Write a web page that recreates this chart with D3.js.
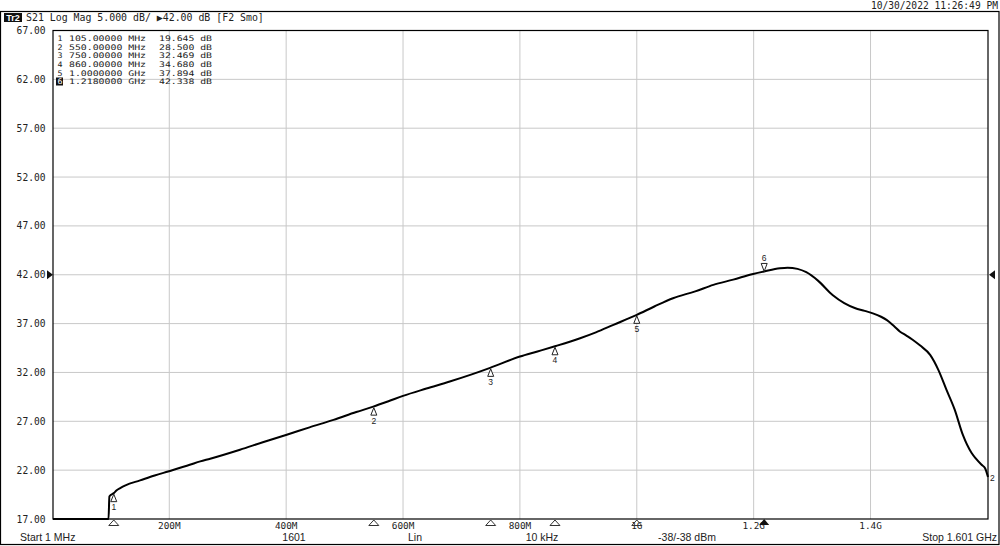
<!DOCTYPE html>
<html><head><meta charset="utf-8">
<script src="https://cdn.jsdelivr.net/npm/d3@7"></script>
<style>
html,body{margin:0;padding:0;background:#fff;}
svg{display:block;}
</style></head>
<body>
<script>
// ---- data ----
const freqMHz = [1, 30, 60, 90, 96, 97.5, 101, 105, 110, 116, 125, 150, 175, 198, 235, 253, 270, 321, 360, 401, 440, 481, 520, 549, 575, 600, 640, 680, 715, 749, 800, 830, 860, 903, 930, 960, 1000, 1030, 1062, 1100, 1131, 1165, 1199, 1218, 1245, 1258, 1275, 1290, 1310, 1335, 1355, 1373, 1390, 1404, 1418, 1428, 1440, 1450, 1462, 1472, 1485, 1502, 1516, 1530, 1544, 1558, 1573, 1580, 1590, 1596, 1601];
const s21dB = [12.5, 13.0, 12.8, 13.5, 14.0, 19.3, 19.5, 19.645, 19.95, 20.17, 20.45, 20.95, 21.45, 21.87, 22.55, 22.9, 23.17, 24.09, 24.85, 25.62, 26.38, 27.15, 27.95, 28.5, 29.05, 29.6, 30.35, 31.07, 31.75, 32.469, 33.63, 34.15, 34.68, 35.5, 36.1, 36.87, 37.894, 38.75, 39.6, 40.3, 40.96, 41.5, 42.08, 42.338, 42.66, 42.72, 42.6, 42.26, 41.4, 39.93, 39.1, 38.6, 38.3, 38.05, 37.7, 37.35, 36.75, 36.2, 35.75, 35.35, 34.75, 33.8, 32.27, 30.22, 28.2, 25.6, 23.75, 23.2, 22.55, 22.2, 21.3];

const markerIds = [1, 2, 3, 4, 5, 6];
const markerFreq = [105, 550, 750, 860, 1000, 1218];
const markerVal = [19.645, 28.5, 32.469, 34.68, 37.894, 42.338];
const markerFreqText = ["105.00000 MHz", "550.00000 MHz", "750.00000 MHz", "860.00000 MHz", "1.0000000 GHz", "1.2180000 GHz"];
const markerValText = ["19.645 dB", "28.500 dB", "32.469 dB", "34.680 dB", "37.894 dB", "42.338 dB"];

const yTicks = [17, 22, 27, 32, 37, 42, 47, 52, 57, 62, 67];
const xTicks = [200, 400, 600, 800, 1000, 1200, 1400];
const xTickLabels = ["200M", "400M", "600M", "800M", "1G", "1.2G", "1.4G"];
const refLevel = 42;

const headerText = "S21 Log Mag 5.000 dB/ \u25B642.00 dB [F2 Smo]";
const dateText = "10/30/2022 11:26:49 PM";
const statusTexts = ["Start 1 MHz", "1601", "Lin", "10 kHz", "-38/-38 dBm", "Stop 1.601 GHz"];

// ---- drawing ----
const W = 1000, H = 546;
const L = 53, R = 988, T = 30.5, B = 519;
const mono = "'DejaVu Sans Mono', monospace";
const sans = "'Liberation Sans', Arial, sans-serif";

const svg = d3.select("body").append("svg").attr("width", W).attr("height", H);

const x = d3.scaleLinear().domain([1, 1601]).range([L, R]);
const y = d3.scaleLinear().domain([17, 67]).range([B, T]).clamp(true);

// outer frame
svg.append("rect").attr("x", 0.5).attr("y", 11.5).attr("width", W - 1.5).attr("height", H - 13)
  .attr("fill", "none").attr("stroke", "#000").attr("stroke-width", 1.2);

// date
svg.append("text").attr("x", 998).attr("y", 9).attr("text-anchor", "end")
  .attr("font-family", mono).attr("font-size", 9.6).attr("fill", "#222").text(dateText);

// header
svg.append("rect").attr("x", 4).attr("y", 13).attr("width", 18).attr("height", 9).attr("fill", "#111");
svg.append("text").attr("x", 13).attr("y", 20.5).attr("text-anchor", "middle")
  .attr("font-family", sans).attr("font-weight", "bold").attr("font-size", 9).attr("fill", "#fff").text("Tr2");
svg.append("text").attr("x", 26).attr("y", 21).attr("font-family", mono).attr("font-size", 9.9)
  .attr("fill", "#222").text(headerText);

// grid
svg.append("g").selectAll("line").data(yTicks.slice(1, -1)).join("line")
  .attr("x1", L).attr("x2", R).attr("y1", d => y(d)).attr("y2", d => y(d))
  .attr("stroke", "#c8c8c8").attr("stroke-width", 1);
svg.append("g").selectAll("line").data(xTicks).join("line")
  .attr("x1", d => x(d)).attr("x2", d => x(d)).attr("y1", T).attr("y2", B)
  .attr("stroke", "#c8c8c8").attr("stroke-width", 1);

// plot border
svg.append("rect").attr("x", L).attr("y", T).attr("width", R - L).attr("height", B - T)
  .attr("fill", "none").attr("stroke", "#000").attr("stroke-width", 1.2);

// y labels
svg.append("g").selectAll("text").data(yTicks).join("text")
  .attr("x", 45.5).attr("y", d => y(d) + 3.5).attr("text-anchor", "end")
  .attr("font-family", mono).attr("font-size", 9.6).attr("fill", "#222")
  .text(d => d.toFixed(2));

// x labels
svg.append("g").selectAll("text").data(xTicks).join("text")
  .attr("x", d => x(d)).attr("y", 529).attr("text-anchor", "middle")
  .attr("font-family", mono).attr("font-size", 9.4).attr("fill", "#222")
  .text((d, i) => xTickLabels[i]);

// status row
const statusX = [20, 294, 415, 542, 687, 997];
const statusAnchor = ["start", "middle", "middle", "middle", "middle", "end"];
svg.append("g").selectAll("text").data(statusTexts).join("text")
  .attr("x", (d, i) => statusX[i]).attr("y", 541).attr("text-anchor", (d, i) => statusAnchor[i])
  .attr("font-family", sans).attr("font-size", 10.5).attr("fill", "#222").text(d => d);

// reference level arrows
const ry = y(refLevel);
svg.append("path").attr("d", `M${L - 6},${ry - 4.5}L${L},${ry}L${L - 6},${ry + 4.5}Z`).attr("fill", "#111");
svg.append("path").attr("d", `M${R + 7},${ry - 4.5}L${R + 1},${ry}L${R + 7},${ry + 4.5}Z`).attr("fill", "#111");

// trace
const pts = freqMHz.map((f, i) => [f, s21dB[i]]);
svg.append("path").datum(pts)
  .attr("d", d3.line().x(d => x(d[0])).y(d => y(d[1])).curve(d3.curveMonotoneX))
  .attr("fill", "none").attr("stroke", "#000").attr("stroke-width", 2).attr("stroke-linejoin", "round");

// trace end label
svg.append("text").attr("x", R + 2).attr("y", y(s21dB[s21dB.length - 1]) + 4)
  .attr("font-family", sans).attr("font-size", 8.5).attr("fill", "#222").text("2");

// markers on trace
markerIds.forEach((id, i) => {
  const mx = x(markerFreq[i]), my = y(markerVal[i]);
  if (id === 6) {
    svg.append("path").attr("d", `M${mx - 3},${my - 8}L${mx + 3},${my - 8}L${mx},${my}Z`)
      .attr("fill", "#fff").attr("stroke", "#222").attr("stroke-width", 1);
    svg.append("text").attr("x", mx).attr("y", my - 10.5).attr("text-anchor", "middle")
      .attr("font-family", sans).attr("font-size", 8.5).attr("fill", "#222").text(id);
  } else {
    svg.append("path").attr("d", `M${mx},${my + 1}L${mx + 3},${my + 8.5}L${mx - 3},${my + 8.5}Z`)
      .attr("fill", "#fff").attr("stroke", "#222").attr("stroke-width", 1);
    svg.append("text").attr("x", mx).attr("y", my + 17).attr("text-anchor", "middle")
      .attr("font-family", sans).attr("font-size", 8.5).attr("fill", "#222").text(id);
  }
  // bottom axis triangles
  if (id === 6) {
    svg.append("path").attr("d", `M${mx},${B}L${mx + 5},${B + 6}L${mx - 5},${B + 6}Z`).attr("fill", "#111");
  } else {
    svg.append("path").attr("d", `M${mx},${B + 1}L${mx + 5},${B + 6.5}L${mx - 5},${B + 6.5}Z`)
      .attr("fill", "none").attr("stroke", "#333").attr("stroke-width", 1);
  }
});

// marker table (wide, short monospace: small font stretched to the reference width)
const tbl = svg.append("g");
const tf = 7.6;
markerIds.forEach((id, i) => {
  const by = 40.8 + i * 8.7;
  if (id === 6) {
    tbl.append("rect").attr("x", 56).attr("y", by - 6.8).attr("width", 7).attr("height", 8).attr("fill", "#111");
  }
  tbl.append("text").attr("x", 57.5).attr("y", by).attr("font-family", mono).attr("font-size", tf)
    .attr("fill", id === 6 ? "#fff" : "#222").attr("textLength", 5).attr("lengthAdjust", "spacingAndGlyphs").text(id);
  tbl.append("text").attr("x", 69).attr("y", by).attr("font-family", mono).attr("font-size", tf)
    .attr("fill", "#222").attr("textLength", 77).attr("lengthAdjust", "spacingAndGlyphs").text(markerFreqText[i]);
  tbl.append("text").attr("x", 159).attr("y", by).attr("font-family", mono).attr("font-size", tf)
    .attr("fill", "#222").attr("textLength", 53).attr("lengthAdjust", "spacingAndGlyphs").text(markerValText[i]);
});
</script>
</body></html>
